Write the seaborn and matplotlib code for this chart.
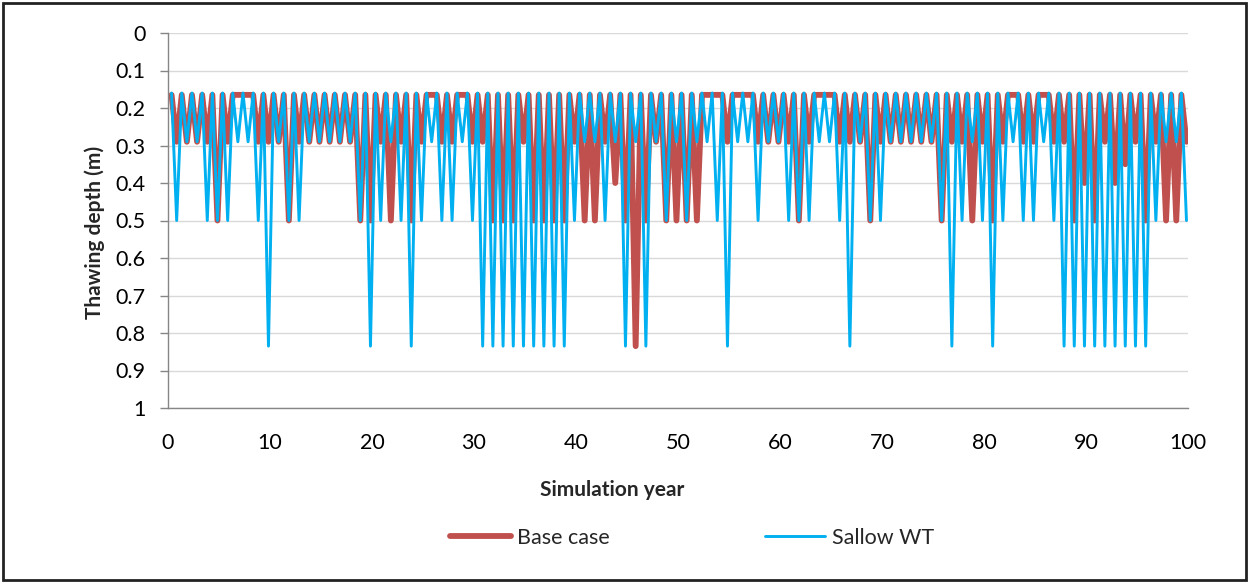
import numpy as np
import pandas as pd
import matplotlib
matplotlib.use("Agg")
import matplotlib.pyplot as plt
import seaborn as sns
from matplotlib.patches import Rectangle

# ---------------- data ----------------
years = list(range(100))
# deepest thaw of each simulated year (m)
base_deep = [0.29, 0.29, 0.29, 0.29, 0.5, 0.29, 0.165, 0.165, 0.29, 0.29,
             0.29, 0.5, 0.29, 0.29, 0.29, 0.29, 0.29, 0.29, 0.5, 0.5,
             0.29, 0.5, 0.29, 0.5, 0.29, 0.165, 0.29, 0.29, 0.165, 0.29,
             0.29, 0.5, 0.5, 0.5, 0.29, 0.5, 0.5, 0.5, 0.5, 0.29,
             0.5, 0.5, 0.29, 0.4, 0.5, 0.835, 0.5, 0.29, 0.5, 0.5,
             0.5, 0.5, 0.165, 0.165, 0.29, 0.165, 0.165, 0.29, 0.29, 0.29,
             0.29, 0.5, 0.29, 0.165, 0.165, 0.29, 0.29, 0.29, 0.5, 0.29,
             0.29, 0.29, 0.29, 0.29, 0.29, 0.5, 0.29, 0.29, 0.5, 0.29,
             0.5, 0.29, 0.165, 0.29, 0.29, 0.165, 0.29, 0.29, 0.5, 0.4,
             0.5, 0.29, 0.4, 0.35, 0.29, 0.5, 0.29, 0.5, 0.5, 0.29]
shallow_deep = [0.5, 0.29, 0.29, 0.5, 0.5, 0.5, 0.29, 0.29, 0.5, 0.835,
                0.29, 0.5, 0.5, 0.29, 0.29, 0.29, 0.29, 0.29, 0.5, 0.835,
                0.5, 0.29, 0.5, 0.835, 0.5, 0.29, 0.5, 0.5, 0.29, 0.5,
                0.835, 0.835, 0.835, 0.835, 0.835, 0.835, 0.835, 0.835, 0.835, 0.5,
                0.29, 0.29, 0.5, 0.29, 0.835, 0.29, 0.835, 0.29, 0.5, 0.29,
                0.5, 0.29, 0.29, 0.5, 0.835, 0.29, 0.29, 0.5, 0.29, 0.29,
                0.5, 0.5, 0.5, 0.29, 0.29, 0.5, 0.835, 0.29, 0.5, 0.5,
                0.29, 0.29, 0.29, 0.29, 0.29, 0.5, 0.835, 0.5, 0.29, 0.5,
                0.835, 0.5, 0.29, 0.5, 0.5, 0.29, 0.5, 0.835, 0.835, 0.835,
                0.835, 0.835, 0.835, 0.835, 0.835, 0.835, 0.5, 0.29, 0.29, 0.5]
# shallowest thaw level reached between dips (m)
base_top = 0.165
shallow_top = 0.16

series_names = ["Base case", "Sallow WT"]
x_ticks = [0, 10, 20, 30, 40, 50, 60, 70, 80, 90, 100]
y_ticks = [0, 0.1, 0.2, 0.3, 0.4, 0.5, 0.6, 0.7, 0.8, 0.9, 1]
y_tick_labels = ["0", "0.1", "0.2", "0.3", "0.4", "0.5", "0.6", "0.7", "0.8", "0.9", "1"]


def build(deep, top, name):
    xs, ys = [], []
    for yr, d in zip(years, deep):
        xs += [yr + 0.35, yr + 0.85]
        ys += [top, d]
    return pd.DataFrame({"year": xs, "depth": ys, "series": name})


df_base = build(base_deep, base_top, series_names[0])
df_shallow = build(shallow_deep, shallow_top, series_names[1])

# ---------------- style ----------------
sns.set_style("white")
plt.rcParams["font.family"] = ["Lato", "DejaVu Sans"]

W, H = 1249, 583
fig = plt.figure(figsize=(W / 100, H / 100), dpi=100)
ax = fig.add_axes([168 / W, 1 - 408 / H, (1188 - 168) / W, (408 - 33) / H])

red = "#C0504D"
blue = "#00B0F0"

sns.lineplot(data=df_base, x="year", y="depth", ax=ax, sort=False, estimator=None,
             color=red, linewidth=4.2, label=series_names[0])
sns.lineplot(data=df_shallow, x="year", y="depth", ax=ax, sort=False, estimator=None,
             color=blue, linewidth=2.1, label=series_names[1])

ax.set_xlim(0, 100)
ax.set_ylim(1, 0)
ax.set_xticks(x_ticks)
ax.set_yticks(y_ticks)
ax.set_yticklabels(y_tick_labels)
ax.yaxis.grid(True, color="#D9D9D9", linewidth=1.0)
ax.xaxis.grid(False)
ax.set_axisbelow(True)
for s in ["top", "right"]:
    ax.spines[s].set_visible(False)
for s in ["left", "bottom"]:
    ax.spines[s].set_color("#868686")
    ax.spines[s].set_linewidth(1.0)
ax.tick_params(axis="y", which="major", left=True, length=6, width=1.0, color="#868686",
               pad=10, labelsize=15.5, labelcolor="#000000")
ax.tick_params(axis="x", which="major", bottom=False, length=0, width=1.0, color="#868686",
               pad=18, labelsize=15.5, labelcolor="#000000")
ax.set_xlabel("")
ax.set_ylabel("")

fig.text(612 / W, 1 - 490 / H, "Simulation year", ha="center", va="center",
         fontsize=15, fontweight="bold")
fig.text(95 / W, 1 - 232 / H, "Thawing depth (m)", ha="center", va="center",
         rotation=90, fontsize=15, fontweight="bold")

handles, labels = ax.get_legend_handles_labels()
ax.get_legend().remove()
fig.legend(handles, labels, loc="center", bbox_to_anchor=(692 / W, 1 - 538 / H),
           ncol=2, frameon=False, fontsize=15.5, handlelength=2.8, handletextpad=0.3,
           columnspacing=7.2)

fig.patches.append(Rectangle((3 / W, 3 / H), 1 - 6 / W, 1 - 6 / H, transform=fig.transFigure,
                             fill=False, edgecolor="#222222", linewidth=2.0))

fig.savefig("out.png", dpi=100)
